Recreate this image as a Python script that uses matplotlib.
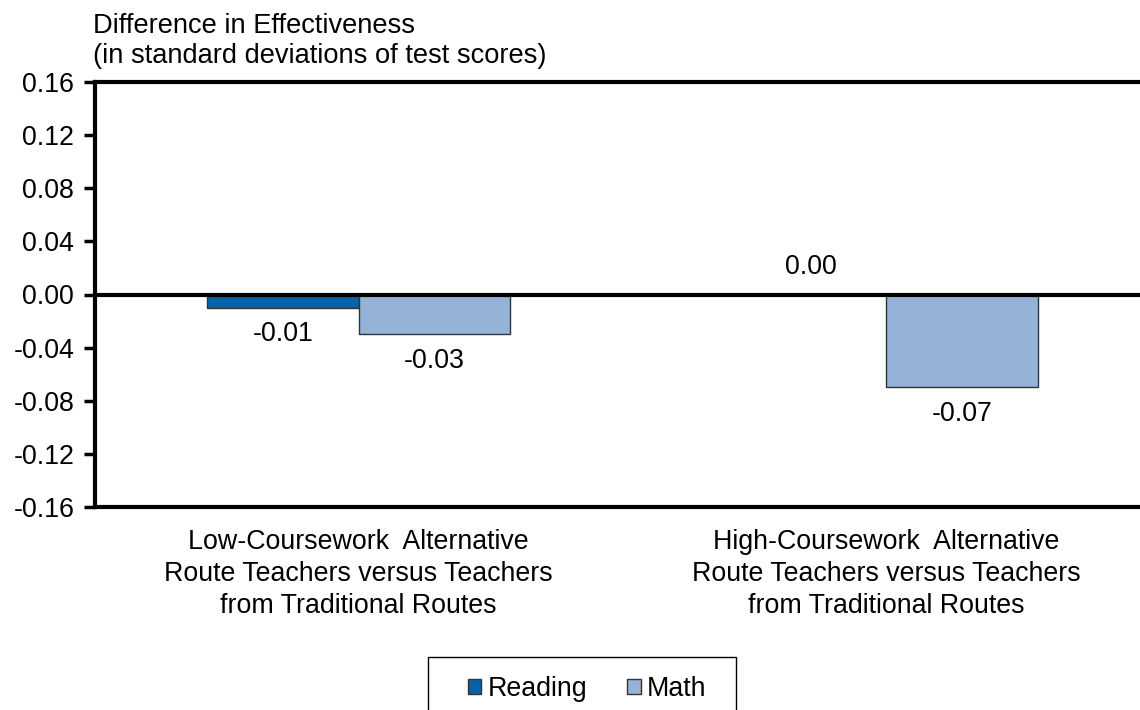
import matplotlib
matplotlib.use("Agg")
import matplotlib.pyplot as plt
from matplotlib.patches import Patch, Rectangle
import numpy as np

categories = ["Low-Coursework  Alternative\nRoute Teachers versus Teachers\nfrom Traditional Routes",
              "High-Coursework  Alternative\nRoute Teachers versus Teachers\nfrom Traditional Routes"]
series_names = ["Reading", "Math"]
reading = [-0.01, 0.00]
math_vals = [-0.03, -0.07]
yticks = [0.16, 0.12, 0.08, 0.04, 0.00, -0.04, -0.08, -0.12, -0.16]
ylabel_text = "Difference in Effectiveness\n(in standard deviations of test scores)"

colors = ["#0563A6", "#95B3D7"]
FS = 19.3
plt.rcParams['font.family'] = ['Liberation Sans', 'DejaVu Sans']

fig = plt.figure(figsize=(11.4, 7.1), dpi=100)
ax = fig.add_axes([95/1140, 1-507/710, 1055/1140, (507-82)/710])

x = np.arange(len(categories))
w = 0.287
b1 = ax.bar(x - w/2, reading, w, color=colors[0], edgecolor="#333333", linewidth=1, zorder=2)
b2 = ax.bar(x + w/2, math_vals, w, color=colors[1], edgecolor="#333333", linewidth=1, zorder=2)

for bars, vals in ((b1, reading), (b2, math_vals)):
    for rect, v in zip(bars, vals):
        cx = rect.get_x() + rect.get_width()/2
        off = 20 if v >= 0 else -19
        ax.annotate(f"{v:.2f}", (cx, v), xytext=(0, off), textcoords="offset points",
                    ha="center", va="center", fontsize=FS)

ax.axhline(0, color="black", lw=3, zorder=3)
ax.set_xlim(-0.5, 1.5)
ax.set_ylim(-0.16, 0.16)
ax.set_yticks(yticks)
ax.set_yticklabels([f"{t:.2f}" for t in yticks], fontsize=FS)
ax.set_xticks(x)
ax.set_xticklabels(categories, fontsize=FS, linespacing=1.29)
ax.tick_params(axis='x', length=0, pad=16)
ax.tick_params(axis='y', length=8, width=2.5, direction='out', pad=7)
for s in ("top", "bottom", "left"):
    ax.spines[s].set_linewidth(3)
    ax.spines[s].set_color("black")
ax.spines["right"].set_visible(False)

fig.text(93/1140, 1-41/710, ylabel_text, fontsize=19.6, ha="left", va="center", linespacing=1.18)

# legend frame box (extends past the bottom edge like the reference)
fig.add_artist(Rectangle((428/1140, -0.05), (736-428)/1140, (710-657)/710 + 0.05,
                         transform=fig.transFigure, fill=False, edgecolor="black", lw=1))
handles = [Patch(facecolor=colors[0], edgecolor="#333333"), Patch(facecolor=colors[1], edgecolor="#333333")]
leg = fig.legend(handles, series_names, loc="center left", bbox_to_anchor=(468/1140, 1-689/710),
                 ncol=2, fontsize=FS, frameon=False,
                 handlelength=0.5, handleheight=0.5, handletextpad=0.22, columnspacing=1.5,
                 borderpad=0, borderaxespad=0)

fig.savefig("out.png", dpi=100)
